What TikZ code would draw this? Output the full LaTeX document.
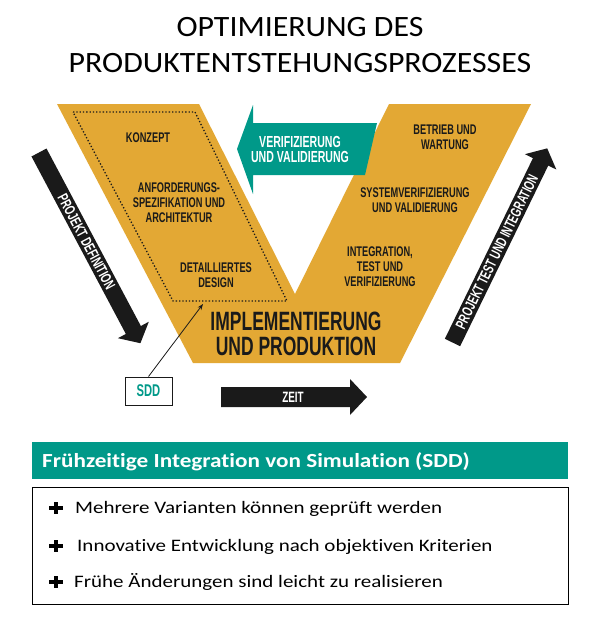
\documentclass[tikz,border=0pt]{standalone}
\usepackage{fontspec}
\setmainfont{Carlito}[Ligatures=NoCommon]
\newfontfamily\titlefont[FakeStretch=1.08]{Carlito}
\newfontfamily\boxfont[FakeStretch=1.2, Ligatures=NoCommon]{Carlito}
\newfontfamily\hdrfont[FakeStretch=1.16, Ligatures=NoCommon]{Carlito}
\newfontfamily\vfont[FakeStretch=0.66]{Liberation Sans}
\usetikzlibrary{arrows.meta}
\definecolor{vorange}{RGB}{227,168,52}
\definecolor{vteal}{RGB}{0,153,137}
\definecolor{vblack}{RGB}{26,26,26}

\begin{document}
\begin{tikzpicture}[x=1pt, y=-1pt,
    vtext/.style={font=\vfont\bfseries\fontsize{14}{15}\selectfont, align=center, text=vblack, inner sep=0pt},
    atext/.style={font=\vfont\bfseries\fontsize{15}{15}\selectfont, text=white, inner sep=0pt},
    bullet/.style={anchor=base west, font=\boxfont\fontsize{17.5}{20}\selectfont, inner sep=0pt},
    pluspic/.pic={\fill[black] (-7,-2) rectangle (7,2); \fill[black] (-2,-6) rectangle (2,6);}]

    \useasboundingbox[fill=white] (0,0) rectangle (600,627);

    % title
    \node[anchor=base, font=\titlefont\fontsize{29.5}{35}\selectfont] (title1) at (300,36) {OPTIMIERUNG DES};
    \node[anchor=base, font=\titlefont\fontsize{29.5}{35}\selectfont] (title2) at (300,72) {PRODUKTENTSTEHUNGSPROZESSES};

    % V model
    \fill[vorange] (57,104) -- (199,104) -- (295,294) -- (389,104) -- (531,104) -- (400,363) -- (193,363) -- cycle;
    \draw[vblack, line width=1.3pt, dash pattern=on 1.3pt off 2pt] (73,112) -- (195,112) -- (287,301) -- (173,301) -- cycle;

    % left arm
    \node[vtext] (konzept) at (148,138) {KONZEPT};
    \node[vtext] (anford) at (179,203) {ANFORDERUNGS-\\SPEZIFIKATION UND\\ARCHITEKTUR};
    \node[vtext] (design) at (216,275) {DETAILLIERTES\\DESIGN};

    % right arm
    \node[vtext] (betrieb) at (445,137) {BETRIEB UND\\WARTUNG};
    \node[vtext] (sysver) at (415,200) {SYSTEMVERIFIZIERUNG\\UND VALIDIERUNG};
    \node[vtext] (integ) at (380,267) {INTEGRATION,\\TEST UND\\VERIFIZIERUNG};

    % bottom
    \node[vtext, font=\vfont\bfseries\fontsize{26.5}{24.5}\selectfont] (impl) at (296,334) {IMPLEMENTIERUNG\\UND PRODUKTION};

    % verification arrow
    \fill[vteal] (237,149) -- (253,105) -- (253,123) -- (377,123) -- (365,175) -- (253,175) -- (253,194) -- cycle;
    \node[vtext, text=white, font=\vfont\bfseries\fontsize{16}{15}\selectfont] (verval) at (300,149) {VERIFIZIERUNG\\UND VALIDIERUNG};

    % project arrows
    \begin{scope}[shift={(39,152.5)}, rotate=-62]
        \fill[vblack] (0,-8.5) -- (201,-8.5) -- (201,-17.5) -- (216,0) -- (201,17.5) -- (201,8.5) -- (0,8.5) -- cycle;
        \node[atext, rotate=-62] (pdef) at (101,0) {PROJEKT DEFINITION};
    \end{scope}
    \begin{scope}[shift={(452.5,342.5)}, rotate=64]
        \fill[vblack] (0,-8.5) -- (201,-8.5) -- (201,-17.5) -- (216,0) -- (201,17.5) -- (201,8.5) -- (0,8.5) -- cycle;
        \node[atext, rotate=64] (ptest) at (101,0) {PROJEKT TEST UND INTEGRATION};
    \end{scope}

    % time arrow
    \fill[vblack] (221,387) -- (350,387) -- (350,379) -- (367,397) -- (350,415) -- (350,407) -- (221,407) -- cycle;
    \node[atext] (zeit) at (293,397) {ZEIT};

    % SDD
    \node[draw=vblack, fill=white, line width=1pt, minimum width=47, minimum height=28, text=vteal,
        font=\vfont\bfseries\fontsize{17}{17}\selectfont] (sdd) at (148.5,391) {SDD};
    \coordinate (sddtip) at (203,304);
    \draw[-{Stealth[length=6pt,width=4.5pt]}, line width=0.8pt, vblack] (sdd.north) -- (sddtip);

    % simulation box
    \node[fill=vteal, anchor=north west, minimum width=536, minimum height=37, inner sep=0pt] (hdr) at (32,442) {};
    \node[anchor=base west, text=white, font=\hdrfont\bfseries\fontsize{20}{24}\selectfont, inner sep=0pt] (hdrtext) at (42,467) {Frühzeitige Integration von Simulation (SDD)};
    \node[draw, line width=0.8pt, anchor=north west, minimum width=536, minimum height=117, inner sep=0pt] (box) at (32,487) {};

    \pic at (55.5,508) {pluspic};
    \node[bullet] (b1) at (75,513) {Mehrere Varianten können geprüft werden};
    \pic at (55.5,546) {pluspic};
    \node[bullet] (b2) at (77,551) {Innovative Entwicklung nach objektiven Kriterien};
    \pic at (55.5,582) {pluspic};
    \node[bullet] (b3) at (74,587) {Frühe Änderungen sind leicht zu realisieren};

\end{tikzpicture}
\end{document}
